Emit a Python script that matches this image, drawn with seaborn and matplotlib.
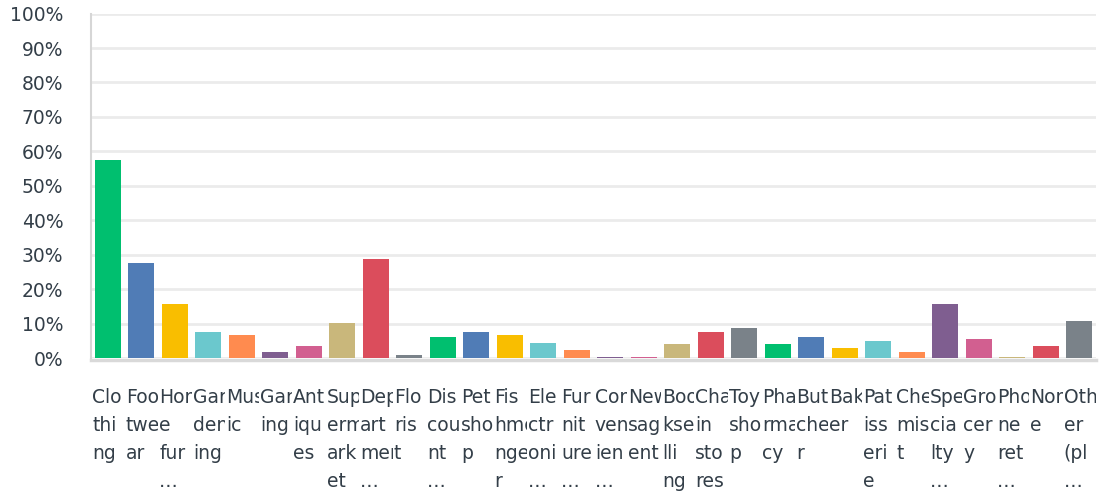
import matplotlib
matplotlib.use("Agg")
import matplotlib.pyplot as plt
import matplotlib.transforms as mtransforms
import pandas as pd
import seaborn as sns

# Kategorier (som vist, ombrudt pr. 3 tegn) og værdier i procent
labels = ["Clo\nthi\nng", "Foo\ntwe\nar", "Hom\ne\nfur\n…", "Gar\nden\ning", "Mus\nic",
          "Gam\ning", "Ant\niqu\nes", "Sup\nerm\nark\net", "Dep\nart\nmen\n…", "Flo\nris\nt",
          "Dis\ncou\nnt\n…", "Pet\nsho\np", "Fis\nhmo\nnge\nr", "Ele\nctr\noni\n…", "Fur\nnit\nure\n…",
          "Con\nven\nien\n…", "New\nsag\nent", "Boo\nkse\nlli\nng", "Cha\nin\nsto\nres", "Toy\nsho\np",
          "Pha\nrma\ncy", "But\nche\nr", "Bak\ner", "Pat\niss\neri\ne", "Che\nmis\nt",
          "Spe\ncia\nlty\n…", "Gro\ncer\ny", "Pho\nne\nret\n…", "Non\ne", "Oth\ner\n(pl\n…"]
values = [57.6, 27.6, 15.7, 7.6, 6.7, 1.7, 3.5, 10.2, 28.8, 0.9,
          6.1, 7.6, 6.7, 4.4, 2.3, 0.4, 0.4, 4.2, 7.6, 8.7,
          4.1, 6.1, 2.9, 4.9, 1.7, 15.7, 5.5, 0.4, 3.5, 10.8]
base_colors = ["#00BF6F", "#507CB6", "#F9BE00", "#6BC8CD", "#FF8B4F",
               "#7F5E90", "#D25F90", "#C9B77B", "#DB4D5C", "#7A8289"]
y_ticks = [0, 10, 20, 30, 40, 50, 60, 70, 80, 90, 100]

text_color = "#333e48"

sns.set_style("white")
plt.rcParams["font.family"] = ["DejaVu Sans"]

df = pd.DataFrame({"label": labels, "value": values})
palette = [base_colors[i % len(base_colors)] for i in range(len(labels))]

fig = plt.figure(figsize=(11.02, 4.96), dpi=100)
ax = fig.add_axes([0.0826, 0.278, 0.912, 0.6946])

sns.barplot(data=df, x="label", y="value", hue="label", palette=palette,
            order=labels, hue_order=labels, legend=False, width=0.78,
            saturation=1, linewidth=0, edgecolor="none", ax=ax)

ax.set_xlim(-0.5, len(labels) - 0.5)
ax.set_ylim(0, 100)
ax.set_yticks(y_ticks)
ax.set_yticklabels([f"{v}%" for v in y_ticks])
ax.set_xlabel("")
ax.set_ylabel("")

ax.yaxis.grid(True, color="#ebebeb", linewidth=2)
ax.set_axisbelow(True)
for side in ["top", "right"]:
    ax.spines[side].set_visible(False)
ax.spines["left"].set_color("#d6d6d6")
ax.spines["left"].set_linewidth(1.5)
ax.spines["bottom"].set_color("#d9d9d9")
ax.spines["bottom"].set_linewidth(2.5)
ax.spines["bottom"].set_position(("outward", 1.2))

ax.tick_params(axis="y", length=0, pad=20, labelsize=13.5, labelcolor=text_color)
ax.tick_params(axis="x", length=0, pad=20, labelsize=13.5, labelcolor=text_color)

# Venstrestillede etiketter, klippet til hver søjles kolonne
offset = mtransforms.ScaledTranslation(-15.5 / 100, 0, fig.dpi_scale_trans)
clip_trans = mtransforms.blended_transform_factory(ax.transData, fig.transFigure)
for i, lab in enumerate(ax.get_xticklabels()):
    lab.set_horizontalalignment("left")
    lab.set_verticalalignment("top")
    lab.set_linespacing(1.62)
    lab.set_transform(lab.get_transform() + offset)
    box = mtransforms.TransformedBbox(
        mtransforms.Bbox([[i - 0.5, 0], [i + 0.5, 1]]), clip_trans)
    lab.set_clip_box(box)
    lab.set_clip_on(True)

fig.savefig("out.png", dpi=100)
